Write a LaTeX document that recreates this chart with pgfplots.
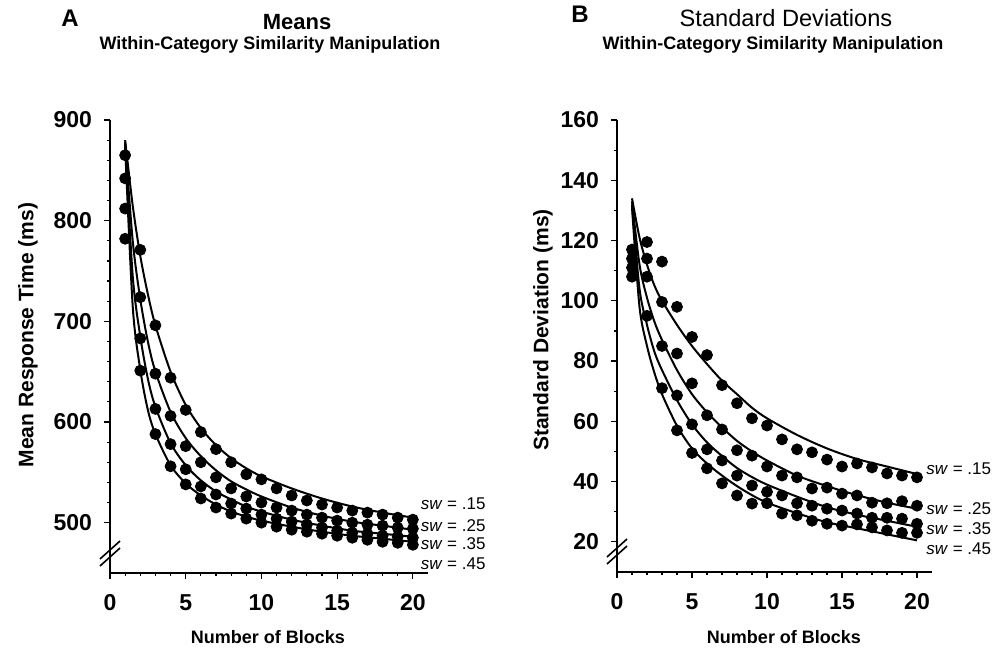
\documentclass[border=0pt]{standalone}
\usepackage{pgfplots}
\pgfplotsset{compat=1.18}
\usepackage{fontspec}
\setmainfont{Liberation Sans}
\tikzset{swl/.style={anchor=west, font=\fontsize{8.5}{10}\selectfont, inner sep=0pt}}
\begin{document}
\begin{tikzpicture}[x=1pt,y=1pt]
\path[use as bounding box] (0pt,0pt) rectangle (500pt,329pt);
\pgfplotsset{
 myax/.style={scale only axis, axis x line*=bottom, axis y line*=left,
   axis line style={-, line width=0.9pt},
   tick align=outside, xmin=0, xmax=21, xtick={0,5,...,20}, minor x tick num=4,
   major tick length=3pt, minor tick length=1.5pt,
   tick style={black, line width=0.6pt},
   tick label style={font=\bfseries\fontsize{11.5}{13}\selectfont},
   xticklabel style={yshift=-3.5pt, text height=8.5pt, text depth=0pt},
   yticklabel style={xshift=-2.5pt},
   /pgf/number format/assume math mode=true, clip=false},
 dots/.style={only marks, mark=*, mark size=2.75pt, mark options={fill=black, draw=black}},
 fitl/.style={no marks, black, line width=1pt, smooth},
}
% ---------------- Panel A ----------------
\begin{axis}[myax, at={(55pt,42.5pt)}, anchor=origin, width=159pt, height=226.5pt,
  ymin=450, ymax=900, ytick={500,600,...,900}, minor y tick num=4]
\addplot[dots] coordinates {(1,865)(2,771)(3,696)(4,644)(5,612)(6,590)(7,573)(8,560)(9,548)(10,543)(11,534)(12,527)(13,522)(14,518)(15,515)(16,512)(17,510)(18,508)(19,505)(20,503)};
\addplot[dots] coordinates {(1,842)(2,724)(3,648)(4,606)(5,576)(6,560)(7,545)(8,534)(9,526)(10,520)(11,515)(12,512)(13,508)(14,505)(15,502)(16,500)(17,498)(18,497)(19,495)(20,494)};
\addplot[dots] coordinates {(1,812)(2,683)(3,613)(4,578)(5,553)(6,536)(7,528)(8,519)(9,514)(10,508)(11,504)(12,501)(13,498)(14,495)(15,492)(16,490)(17,489)(18,487)(19,486)(20,485)};
\addplot[dots] coordinates {(1,782)(2,651)(3,588)(4,556)(5,538)(6,524)(7,515)(8,509)(9,504)(10,500)(11,496)(12,493)(13,491)(14,489)(15,487)(16,485)(17,483)(18,481)(19,480)(20,478)};
\addplot[fitl] coordinates {(1,880)(1.5,815)(2,765)(2.5,727)(3,696)(4,650)(5,617)(6,594)(7,577)(8,564)(9,554)(10,546)(12,534)(14,524)(16,516)(18,510)(20,505)};
\addplot[fitl] coordinates {(1,878)(1.5,780)(2,722)(2.5,680)(3,650)(4,610)(5,584)(6,566)(7,552)(8,541)(9,533)(10,526)(12,515)(14,507)(16,501)(18,497)(20,493)};
\addplot[fitl] coordinates {(1,876)(1.5,745)(2,685)(2.5,643)(3,615)(4,579)(5,557)(6,542)(7,531)(8,523)(9,516)(10,511)(12,503)(14,497)(16,492)(18,489)(20,486)};
\addplot[fitl] coordinates {(1,874)(1.5,715)(2,652)(2.5,612)(3,588)(4,557)(5,539)(6,527)(7,518)(8,511)(9,506)(10,502)(12,496)(14,491)(16,487)(18,484)(20,481)};
\node[swl] at (axis cs:20.5,519) {\textit{sw} = .15};
\node[swl] at (axis cs:20.5,497) {\textit{sw} = .25};
\node[swl] at (axis cs:20.5,479) {\textit{sw} = .35};
\node[swl] at (axis cs:20.5,459) {\textit{sw} = .45};
\end{axis}
% ---------------- Panel B ----------------
\begin{axis}[myax, at={(308.5pt,43pt)}, anchor=origin, width=157.5pt, height=226pt,
  ymin=10, ymax=160, ytick={20,40,...,160}, minor y tick num=1]
\addplot[dots] coordinates {(1,117)(2,119.5)(3,113)(4,98)(5,88)(6,82)(7,72)(8,66)(9,61)(10,58.6)(11,54)(12,50.7)(13,49.7)(14,47.3)(15,45)(16,46)(17,44.7)(18,42.7)(19,42)(20,41.4)};
\addplot[dots] coordinates {(1,114)(2,114)(3,99.6)(4,82.5)(5,72.6)(6,62)(7,57.3)(8,50.4)(9,48.6)(10,45)(11,42)(12,41.4)(13,37.7)(14,38)(15,36)(16,35.4)(17,33)(18,32.8)(19,33.5)(20,32)};
\addplot[dots] coordinates {(1,111)(2,108)(3,85)(4,68.6)(5,59)(6,50.7)(7,47)(8,42)(9,38.7)(10,36.6)(11,35.4)(12,32.8)(13,32)(14,31)(15,30.4)(16,29.4)(17,28)(18,28)(19,27.7)(20,26)};
\addplot[dots] coordinates {(1,108)(2,95)(3,71)(4,57)(5,49.5)(6,44.4)(7,39.4)(8,35.4)(9,32.7)(10,32.8)(11,29.4)(12,28.8)(13,27)(14,26)(15,25.4)(16,25.8)(17,24.8)(18,23.8)(19,23)(20,23)};
\addplot[fitl] coordinates {(1,134)(1.5,121)(2,112)(2.5,105)(3,100)(4,92)(5,85)(6,79)(7,73.5)(8,69)(9,64.5)(10,61)(12,55.5)(14,51)(16,47.5)(18,45)(20,42.5)};
\addplot[fitl] coordinates {(1,133)(1.5,112)(2,101)(2.5,93)(3,87)(4,77)(5,69)(6,63)(7,58)(8,53.5)(9,50)(10,47)(12,42)(14,38.5)(16,35.5)(18,33)(20,31)};
\addplot[fitl] coordinates {(1,132)(1.5,104)(2,92)(2.5,83)(3,77)(4,67)(5,59)(6,53)(7,48.5)(8,44.5)(9,41.5)(10,39)(12,35)(14,31.5)(16,29)(18,27)(20,25)};
\addplot[fitl] coordinates {(1,131)(1.5,98)(2,85)(2.5,76)(3,69)(4,58.5)(5,51)(6,46)(7,42)(8,38.5)(9,35.5)(10,33)(12,29.5)(14,26.5)(16,24.5)(18,22.5)(20,20.5)};
\node[swl] at (axis cs:20.6,44.4) {\textit{sw} = .15};
\node[swl] at (axis cs:20.6,31) {\textit{sw} = .25};
\node[swl] at (axis cs:20.6,24.4) {\textit{sw} = .35};
\node[swl] at (axis cs:20.6,17.8) {\textit{sw} = .45};
\end{axis}
% axis breaks
\draw[line width=0.8pt] (50pt,46pt) -- (60pt,55pt);
\draw[line width=0.8pt] (50pt,49.5pt) -- (60pt,58.5pt);
\draw[line width=0.8pt] (303.5pt,47pt) -- (313.5pt,56pt);
\draw[line width=0.8pt] (303.5pt,50.5pt) -- (313.5pt,59.5pt);
% titles
\node[font=\bfseries\fontsize{12}{14}\selectfont] at (35pt,320pt) {A};
\node[font=\bfseries\fontsize{11}{13}\selectfont] at (148.5pt,318pt) {Means};
\node[font=\bfseries\fontsize{9}{11}\selectfont] at (135pt,306.5pt) {Within-Category Similarity Manipulation};
\node[font=\bfseries\fontsize{12}{14}\selectfont] at (290pt,322pt) {B};
\node[font=\fontsize{11.8}{14}\selectfont] at (393pt,320pt) {Standard Deviations};
\node[font=\bfseries\fontsize{9}{11}\selectfont] at (386.5pt,306.5pt) {Within-Category Similarity Manipulation};
% axis labels
\node[font=\bfseries\fontsize{9}{11}\selectfont] at (134pt,10.5pt) {Number of Blocks};
\node[font=\bfseries\fontsize{9}{11}\selectfont] at (392pt,10.5pt) {Number of Blocks};
\node[font=\bfseries\fontsize{10.5}{12}\selectfont, rotate=90] at (14pt,161.5pt) {Mean Response Time (ms)};
\node[font=\bfseries\fontsize{10.5}{12}\selectfont, rotate=90] at (271.5pt,164pt) {Standard Deviation (ms)};
\end{tikzpicture}
\end{document}
